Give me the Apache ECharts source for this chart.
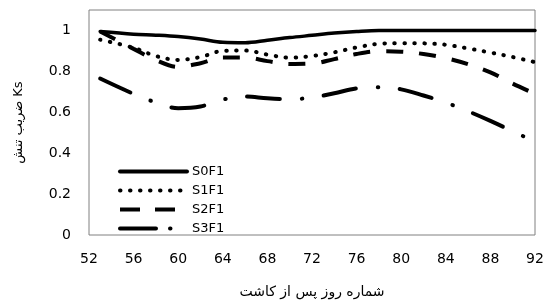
<!DOCTYPE html>
<html><head><meta charset="utf-8">
<script src="https://cdn.jsdelivr.net/npm/echarts@6/dist/echarts.min.js"></script>
<style>html,body{margin:0;padding:0;background:#fff}#c{width:547px;height:304px}</style>
</head><body><div id="c"></div>
<script>
const days = [53, 56, 58, 60, 62, 64, 66, 68, 70, 72, 74, 76, 78, 80, 82, 84, 86, 88, 90, 92];
const S0F1 = [0.995, 0.982, 0.977, 0.970, 0.958, 0.942, 0.940, 0.952, 0.965, 0.976, 0.987, 0.995, 1.0, 1.0, 1.0, 1.0, 1.0, 1.0, 1.0, 1.0];
const S1F1 = [0.955, 0.915, 0.875, 0.856, 0.870, 0.900, 0.902, 0.882, 0.867, 0.875, 0.893, 0.917, 0.935, 0.938, 0.937, 0.930, 0.912, 0.892, 0.870, 0.845];
const S2F1 = [0.995, 0.910, 0.855, 0.822, 0.840, 0.868, 0.868, 0.850, 0.836, 0.838, 0.860, 0.885, 0.898, 0.896, 0.885, 0.865, 0.835, 0.795, 0.740, 0.690];
const S3F1 = [0.765, 0.690, 0.648, 0.620, 0.628, 0.662, 0.677, 0.668, 0.664, 0.672, 0.693, 0.717, 0.722, 0.712, 0.682, 0.647, 0.605, 0.558, 0.507, 0.456];
const seriesNames = ['S0F1', 'S1F1', 'S2F1', 'S3F1'];
const xTicks = {min: 52, max: 92, interval: 4};
const yTicks = {min: 0, max: 1.1, interval: 0.2};

const pair = arr => days.map((d, i) => [d, arr[i]]);
const styles = [
  {width: 3.5, type: 'solid', cap: 'round'},
  {width: 4, type: [0.5, 9.5], cap: 'round'},
  {width: 4, type: [17, 16], cap: 'butt'},
  {width: 4, type: [33, 22, 0.5, 21.5], cap: 'round'}
];
const legendStyles = [
  {width: 4, type: 'solid', cap: 'round'},
  {width: 4, type: [0.5, 9.5], cap: 'round'},
  {width: 4, type: [20, 15], cap: 'butt'},
  {width: 4, type: [36, 14, 0.5, 40], cap: 'round'}
];
const data = [S0F1, S1F1, S2F1, S3F1];
const font = 'DejaVu Sans';
const chart = echarts.init(document.getElementById('c'));
chart.setOption({
  animation: false,
  grid: {left: 89, right: 12, top: 10, bottom: 61, show: true, borderColor: '#808080', borderWidth: 1},
  legend: {
    orient: 'vertical', left: 113, top: 160, itemWidth: 67, itemHeight: 12, itemGap: 6,
    data: seriesNames.map((n, i) => ({name: n, lineStyle: Object.assign({color: '#000'}, legendStyles[i])})),
    itemStyle: {color: 'transparent', borderColor: 'transparent', borderWidth: 0, opacity: 0},
    textStyle: {fontFamily: font, fontSize: 13, color: '#000'}
  },
  xAxis: {
    type: 'value', min: xTicks.min, max: xTicks.max, interval: xTicks.interval,
    axisLine: {show: false}, axisTick: {show: false}, splitLine: {show: false},
    axisLabel: {fontFamily: font, fontSize: 14, color: '#000', margin: 17},
    name: 'شماره روز پس از کاشت', nameLocation: 'middle', nameGap: 50,
    nameTextStyle: {fontFamily: 'DejaVu Sans', fontSize: 14, color: '#000'}
  },
  yAxis: {
    type: 'value', min: yTicks.min, max: yTicks.max, interval: yTicks.interval,
    axisLine: {show: false}, axisTick: {show: false}, splitLine: {show: false},
    axisLabel: {fontFamily: font, fontSize: 14, color: '#000', margin: 18, showMaxLabel: false,
      formatter: v => (v > 1.05 ? '' : String(Math.round(v * 10) / 10))},
    name: 'ضریب تنش Ks', nameLocation: 'middle', nameGap: 64,
    nameTextStyle: {fontFamily: 'DejaVu Sans', fontSize: 13, color: '#000'}
  },
  series: seriesNames.map((n, i) => ({
    name: n, type: 'line', smooth: 0.35, symbol: 'none', showSymbol: false,
    data: pair(data[i]),
    lineStyle: Object.assign({color: '#000'}, styles[i]),
    itemStyle: {color: '#000'}
  }))
});
</script></body></html>
